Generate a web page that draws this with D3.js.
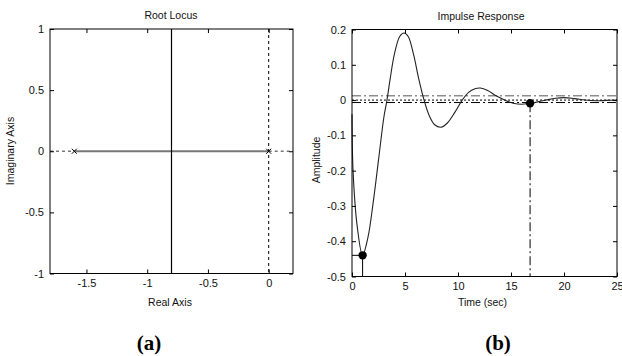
<!DOCTYPE html>
<html>
<head>
<meta charset="utf-8">
<script src="https://cdn.jsdelivr.net/npm/d3@7"></script>
<style>
  body { margin: 0; background: #fff; }
  text { font-family: Arial, "Liberation Sans", sans-serif; fill: #111; }
  text.panel { font-family: "Liberation Serif", "Times New Roman", serif; font-weight: bold; fill: #000; }
</style>
</head>
<body>
<div id="chart"></div>
<script>
// ---- data: root locus (a)
const rlXTicks = [-1.5, -1, -0.5, 0];
const rlYTicks = [-1, -0.5, 0, 0.5, 1];
const rlPoles = [-1.6, 0];
const rlLocus = [-1.6, 0];        // real-axis branch between the poles
const rlAsymptote = -0.8;          // vertical branch / breakaway
const rlLeftDash = [-1.8, -1.6];
const rlRightDash = [0, 0.2];

// ---- data: impulse response (b)
const irTime = [0, 0.1, 0.5, 1.0, 1.5, 2.0, 2.5, 3.0, 3.3, 3.6, 4.0, 4.5, 4.9, 5.3, 5.8, 6.3, 6.8, 7.3, 7.8, 8.4, 9.0, 9.7, 10.4, 11.0, 11.6, 12.1, 12.8, 13.6, 14.4, 15.2, 16.0, 16.8, 17.5, 18.3, 19.2, 20.0, 21.0, 22.0, 23.0, 24.0, 25.0];
const irAmp  = [-0.04, -0.2, -0.36, -0.44, -0.39, -0.29, -0.17, -0.05, 0, 0.06, 0.13, 0.18, 0.19, 0.18, 0.13, 0.06, 0, -0.045, -0.07, -0.077, -0.065, -0.035, 0, 0.022, 0.032, 0.034, 0.027, 0.012, 0, -0.009, -0.012, -0.009, -0.005, 0, 0.005, 0.007, 0.004, 0, -0.002, -0.001, 0];
const irXTicks = [0, 5, 10, 15, 20, 25];
const irYTicks = [-0.5, -0.4, -0.3, -0.2, -0.1, 0, 0.1, 0.2];
const irPeak = { t: 1.0, y: -0.44 };
const irSettle = { t: 16.8, y: -0.009 };
const irBandHi = 0.012;
const irBandLo = -0.007;

const W = 622, H = 356;
const svg = d3.select("#chart").append("svg").attr("width", W).attr("height", H);

function frame(g, x, y, xt, yt, xfmt, yfmt) {
  const [x0, x1] = x.range(), [y0, y1] = y.range();
  const tl = 4;
  g.append("g").attr("transform", `translate(0,${y0})`)
    .call(d3.axisBottom(x).tickValues(xt).tickSize(-tl).tickPadding(6).tickFormat(xfmt));
  g.append("g").attr("transform", `translate(0,${y1})`)
    .call(d3.axisTop(x).tickValues(xt).tickSize(-tl).tickFormat(""));
  g.append("g").attr("transform", `translate(${x0},0)`)
    .call(d3.axisLeft(y).tickValues(yt).tickSize(-tl).tickPadding(6).tickFormat(yfmt));
  g.append("g").attr("transform", `translate(${x1},0)`)
    .call(d3.axisRight(y).tickValues(yt).tickSize(-tl).tickFormat(""));
  g.selectAll(".domain").remove();
  g.selectAll(".tick line").attr("stroke", "#000");
  g.selectAll(".tick text").attr("font-size", 11).attr("fill", "#111")
    .attr("font-family", "Arial, 'Liberation Sans', sans-serif");
  g.append("rect").attr("x", x0).attr("y", y1).attr("width", x1 - x0).attr("height", y0 - y1)
    .attr("fill", "none").attr("stroke", "#000").attr("stroke-width", 1);
}

const fmt = d => d === 0 ? "0" : String(d);

// ---------------- (a) Root Locus
{
  const g = svg.append("g");
  const x = d3.scaleLinear().domain([-1.8, 0.2]).range([50, 293]);
  const y = d3.scaleLinear().domain([-1, 1]).range([273.5, 29]);
  const yz = y(0);

  g.append("line").attr("x1", x(rlLeftDash[0])).attr("x2", x(rlLeftDash[1]))
    .attr("y1", yz).attr("y2", yz).attr("stroke", "#777").attr("stroke-width", 1.6)
    .attr("stroke-dasharray", "3,3");
  g.append("line").attr("x1", x(rlRightDash[0])).attr("x2", x(rlRightDash[1]))
    .attr("y1", yz).attr("y2", yz).attr("stroke", "#777").attr("stroke-width", 1.6)
    .attr("stroke-dasharray", "3,3");
  g.append("line").attr("x1", x(rlLocus[0])).attr("x2", x(rlLocus[1]))
    .attr("y1", yz).attr("y2", yz).attr("stroke", "#777").attr("stroke-width", 2);
  g.append("line").attr("x1", x(rlAsymptote)).attr("x2", x(rlAsymptote))
    .attr("y1", y(1)).attr("y2", y(-1)).attr("stroke", "#000").attr("stroke-width", 1.2);
  g.append("line").attr("x1", x(0)).attr("x2", x(0))
    .attr("y1", y(1)).attr("y2", y(-1)).attr("stroke", "#000").attr("stroke-width", 1)
    .attr("stroke-dasharray", "3,3");
  g.selectAll(".pole").data(rlPoles).enter().append("path").attr("class", "pole")
    .attr("d", d => `M${x(d) - 2.5},${yz - 2.5}L${x(d) + 2.5},${yz + 2.5}M${x(d) - 2.5},${yz + 2.5}L${x(d) + 2.5},${yz - 2.5}`)
    .attr("stroke", "#000").attr("stroke-width", 1);

  frame(g, x, y, rlXTicks, rlYTicks, fmt, fmt);

  g.append("text").attr("x", 171).attr("y", 19).attr("text-anchor", "middle")
    .attr("font-size", 10.5).text("Root Locus");
  g.append("text").attr("x", 170).attr("y", 305.5).attr("text-anchor", "middle")
    .attr("font-size", 10.5).text("Real Axis");
  g.append("text").attr("transform", "translate(14,151) rotate(-90)").attr("text-anchor", "middle")
    .attr("font-size", 10.5).text("Imaginary Axis");
  g.append("text").attr("class", "panel").attr("x", 149).attr("y", 350).attr("text-anchor", "middle")
    .attr("font-size", 21).text("(a)");
}

// ---------------- (b) Impulse Response
{
  const g = svg.append("g");
  const x = d3.scaleLinear().domain([0, 25]).range([352, 617]);
  const y = d3.scaleLinear().domain([-0.5, 0.2]).range([276.5, 29.5]);
  const data = irTime.map((t, i) => ({ t, y: irAmp[i] }));

  const hline = (v, dash, color) => g.append("line")
    .attr("x1", x(0)).attr("x2", x(25)).attr("y1", y(v)).attr("y2", y(v))
    .attr("stroke", color).attr("stroke-width", 1).attr("stroke-dasharray", dash);
  hline(irBandHi, "9,3,2,3", "#555");
  hline(0, "2,2", "#000");
  hline(irBandLo, "9,3,2,3", "#000");

  g.append("path").datum(data)
    .attr("d", d3.line().x(d => x(d.t)).y(d => y(d.y)).curve(d3.curveCatmullRom.alpha(0.5)))
    .attr("fill", "none").attr("stroke", "#222").attr("stroke-width", 1.1);

  // peak and settling markers
  g.append("line").attr("x1", x(0)).attr("x2", x(irPeak.t)).attr("y1", y(irPeak.y)).attr("y2", y(irPeak.y))
    .attr("stroke", "#000").attr("stroke-width", 1);
  g.append("line").attr("x1", x(irPeak.t)).attr("x2", x(irPeak.t)).attr("y1", y(irPeak.y)).attr("y2", y(-0.5))
    .attr("stroke", "#000").attr("stroke-width", 1);
  g.append("line").attr("x1", x(irSettle.t)).attr("x2", x(irSettle.t)).attr("y1", y(irSettle.y)).attr("y2", y(-0.5))
    .attr("stroke", "#000").attr("stroke-width", 1).attr("stroke-dasharray", "9,3,2,3");
  g.selectAll(".mk").data([irPeak, irSettle]).enter().append("circle").attr("class", "mk")
    .attr("cx", d => x(d.t)).attr("cy", d => y(d.y)).attr("r", 4.2).attr("fill", "#000");

  frame(g, x, y, irXTicks, irYTicks, fmt, fmt);

  g.append("text").attr("x", 481).attr("y", 20).attr("text-anchor", "middle")
    .attr("font-size", 10.5).text("Impulse Response");
  g.append("text").attr("x", 482.5).attr("y", 306).attr("text-anchor", "middle")
    .attr("font-size", 10.5).text("Time (sec)");
  g.append("text").attr("transform", "translate(320,160) rotate(-90)").attr("text-anchor", "middle")
    .attr("font-size", 10.5).text("Amplitude");
  g.append("text").attr("class", "panel").attr("x", 498).attr("y", 350).attr("text-anchor", "middle")
    .attr("font-size", 21).text("(b)");
}
</script>
</body>
</html>
